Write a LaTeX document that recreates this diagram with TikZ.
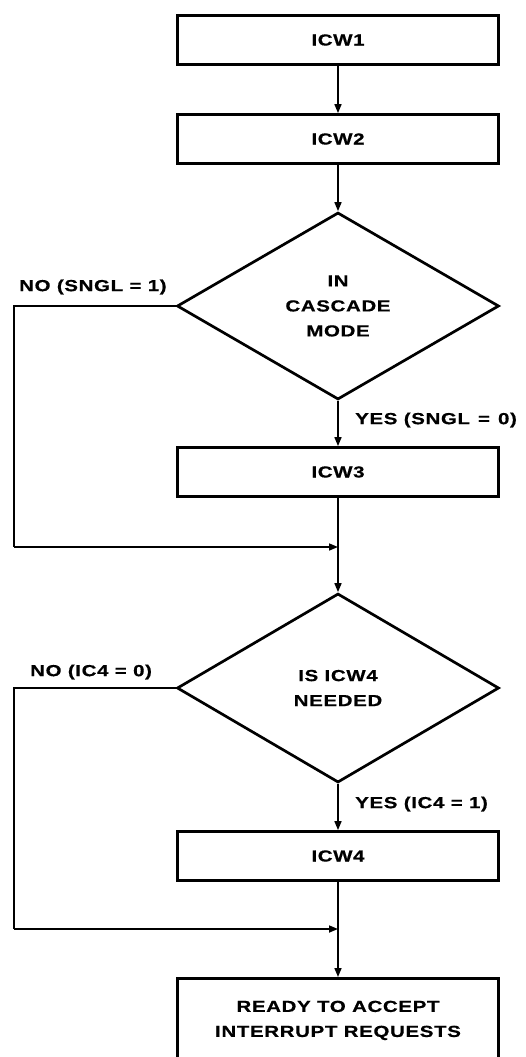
\documentclass[tikz,border=0pt]{standalone}
\usepackage{fontspec}
\newfontfamily\diafont{Liberation Sans}[FakeStretch=1.28,LetterSpace=4,FakeBold=0.6]
\usetikzlibrary{shapes.geometric,arrows.meta}
\begin{document}
\begin{tikzpicture}[x=1pt,y=-1pt,
  txt/.style={font=\diafont\bfseries\fontsize{16}{25}\selectfont},
  box/.style={txt, draw, line width=2.8pt, minimum width=321pt, minimum height=49pt, inner sep=0pt, align=center},
  dec/.style={txt, draw, diamond, line width=2.7pt, minimum width=322pt, minimum height=187pt, inner sep=0pt, align=center},
  conn/.style={line width=1.6pt, -{Triangle[length=9pt,width=7pt]}},
  plain/.style={line width=1.6pt},
  lbl/.style={txt, inner sep=0pt, anchor=west}]
\useasboundingbox (0,0) rectangle (525,1057);
\fill[white] (0,0) rectangle (525,1057);

\node[box] (icw1) at (338,40) {ICW1};
\node[box] (icw2) at (338,139) {ICW2};
\node[dec] (d1) at (338,306) {IN\\CASCADE\\MODE};
\node[box] (icw3) at (338,472) {ICW3};
\coordinate (m1) at (338,547);
\node[dec, minimum height=189pt] (d2) at (338,688) {IS ICW4\\NEEDED};
\node[box] (icw4) at (338,856) {ICW4};
\coordinate (m2) at (338,929);
\node[box, minimum height=84pt, anchor=north] (rdy) at (338,977) {READY TO ACCEPT\\INTERRUPT REQUESTS};

\coordinate (c1) at (14,306);
\coordinate (c2) at (14,547);
\coordinate (c3) at (14,688);
\coordinate (c4) at (14,929);

\draw[conn] (icw1) -- (icw2);
\draw[conn] (icw2) -- (d1);
\draw[conn] (d1) -- (icw3);
\draw[conn] (icw3) -- (d2);
\draw[plain] (d1.west) -- (c1) -- (c2);
\draw[conn] (c2) -- (m1);
\draw[conn] (d2) -- (icw4);
\draw[conn] (icw4) -- (rdy);
\draw[plain] (d2.west) -- (c3) -- (c4);
\draw[conn] (c4) -- (m2);

\node[lbl] (l1) at (19,287) {NO (SNGL = 1)};
\node[lbl] (l2) at (355,420) {YES (SNGL\enspace =\enspace 0)};
\node[lbl] (l3) at (30,672) {NO (IC4 = 0)};
\node[lbl] (l4) at (355,804) {YES (IC4 = 1)};
\end{tikzpicture}
\end{document}
